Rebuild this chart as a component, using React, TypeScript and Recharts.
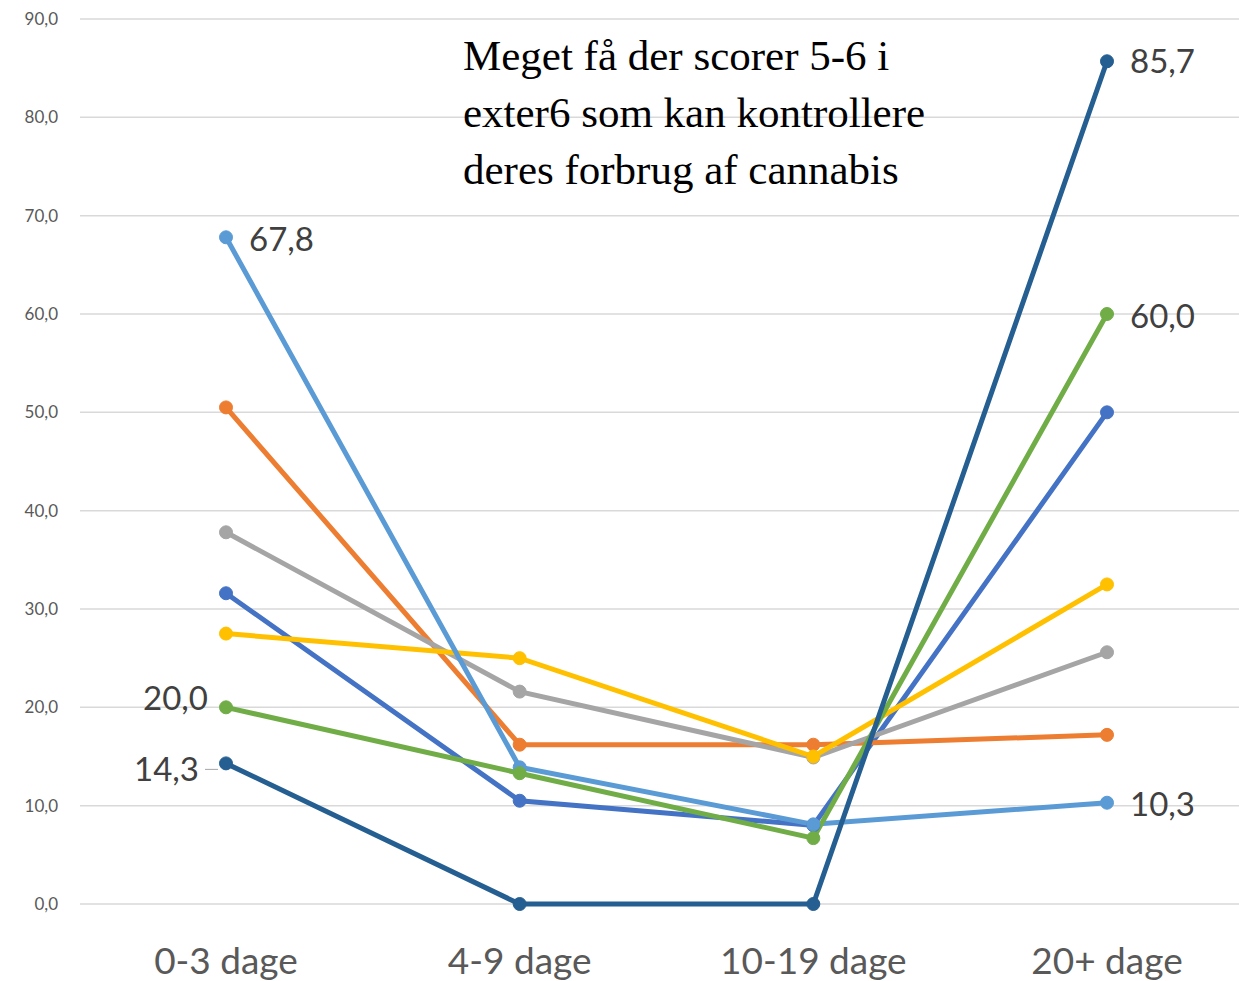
import { LineChart, Line, XAxis, YAxis, CartesianGrid, LabelList } from "recharts";

const categories = ["0-3 dage", "4-9 dage", "10-19 dage", "20+ dage"];

const blue = [31.6, 10.5, 8.0, 50.0];
const orange = [50.5, 16.2, 16.2, 17.2];
const gray = [37.8, 21.6, 14.9, 25.6];
const yellow = [27.5, 25.0, 15.0, 32.5];
const lightBlue = [67.8, 13.9, 8.1, 10.3];
const green = [20.0, 13.3, 6.7, 60.0];
const darkBlue = [14.3, 0.0, 0.0, 85.7];

const yTicks = [0, 10, 20, 30, 40, 50, 60, 70, 80, 90];

const annotation = ["Meget få der scorer 5-6 i", "exter6 som kan kontrollere", "deres forbrug af cannabis"];

const series = [
  { key: "blue", values: blue, color: "#4472C4" },
  { key: "orange", values: orange, color: "#ED7D31" },
  { key: "gray", values: gray, color: "#A5A5A5" },
  { key: "yellow", values: yellow, color: "#FFC000" },
  { key: "lightBlue", values: lightBlue, color: "#5B9BD5" },
  { key: "green", values: green, color: "#70AD47" },
  { key: "darkBlue", values: darkBlue, color: "#255E91" },
];

// which points carry a value label, and on which side
const shownLabels: Record<string, { index: number; side: "left" | "right"; dy: number; leader?: boolean }[]> = {
  lightBlue: [{ index: 0, side: "right", dy: 2 }, { index: 3, side: "right", dy: 2 }],
  green: [{ index: 0, side: "left", dy: -9 }, { index: 3, side: "right", dy: 2 }],
  darkBlue: [{ index: 0, side: "left", dy: 6, leader: true }, { index: 3, side: "right", dy: 0 }],
};

const data = categories.map((c, i) => {
  const row: Record<string, string | number> = { cat: c };
  series.forEach((s) => (row[s.key] = s.values[i]));
  return row;
});

const fmt = (v: number) => v.toFixed(1).replace(".", ",");

const makeLabel = (key: string) => (props: any) => {
  const { x, y, value, index } = props;
  const cfg = (shownLabels[key] || []).find((l) => l.index === index);
  if (!cfg) return null;
  const right = cfg.side === "right";
  const tx = right ? x + 23 : x - (cfg.leader ? 27 : 18);
  return (
    <g>
      {cfg.leader && <line x1={x - 21} y1={y + cfg.dy} x2={x - 8} y2={y + cfg.dy} stroke="#A5A5A5" strokeWidth={1} />}
      <text
        x={tx}
        y={y + cfg.dy}
        dy="0.35em"
        textAnchor={right ? "start" : "end"}
        fontSize={33}
        fill="#404040"
        fontFamily="Lato, 'Open Sans', sans-serif"
      >
        {fmt(value)}
      </text>
    </g>
  );
};

export default function App() {
  return (
    <div style={{ position: "relative", width: 1239, height: 981, overflow: "hidden", background: "#fff" }}>
      <style>{"body{margin:0}"}</style>
      <LineChart width={1253} height={981} data={data} margin={{ top: 19, right: 0, left: 0, bottom: 0 }}>
        <CartesianGrid vertical={false} stroke="#D9D9D9" strokeWidth={1.5} />
        <XAxis
          dataKey="cat"
          axisLine={false}
          tickLine={false}
          tickSize={0}
          tickMargin={44}
          height={77}
          padding={{ left: 146, right: 146 }}
          tick={{ fontSize: 37, fill: "#595959", fontFamily: "Lato, 'Open Sans', sans-serif" }}
        />
        <YAxis
          domain={[0, 90]}
          ticks={yTicks}
          width={80}
          axisLine={false}
          tickLine={false}
          tickSize={0}
          tickMargin={22}
          tickFormatter={fmt}
          tick={{ fontSize: 17, fill: "#595959", fontFamily: "Lato, 'Open Sans', sans-serif" }}
        />
        {series.map((s) => (
          <Line
            key={s.key}
            dataKey={s.key}
            stroke={s.color}
            strokeWidth={5}
            dot={{ r: 6.5, fill: s.color, stroke: s.color, strokeWidth: 1 }}
            activeDot={false}
            isAnimationActive={false}
          >
            <LabelList dataKey={s.key} content={makeLabel(s.key)} />
          </Line>
        ))}
      </LineChart>
      <div
        style={{
          position: "absolute",
          left: 463,
          top: 27,
          fontFamily: "'Liberation Serif', 'DejaVu Serif', serif",
          fontSize: 43,
          lineHeight: "57px",
          color: "#000",
        }}
      >
        {annotation.map((l) => (
          <div key={l}>{l}</div>
        ))}
      </div>
    </div>
  );
}
